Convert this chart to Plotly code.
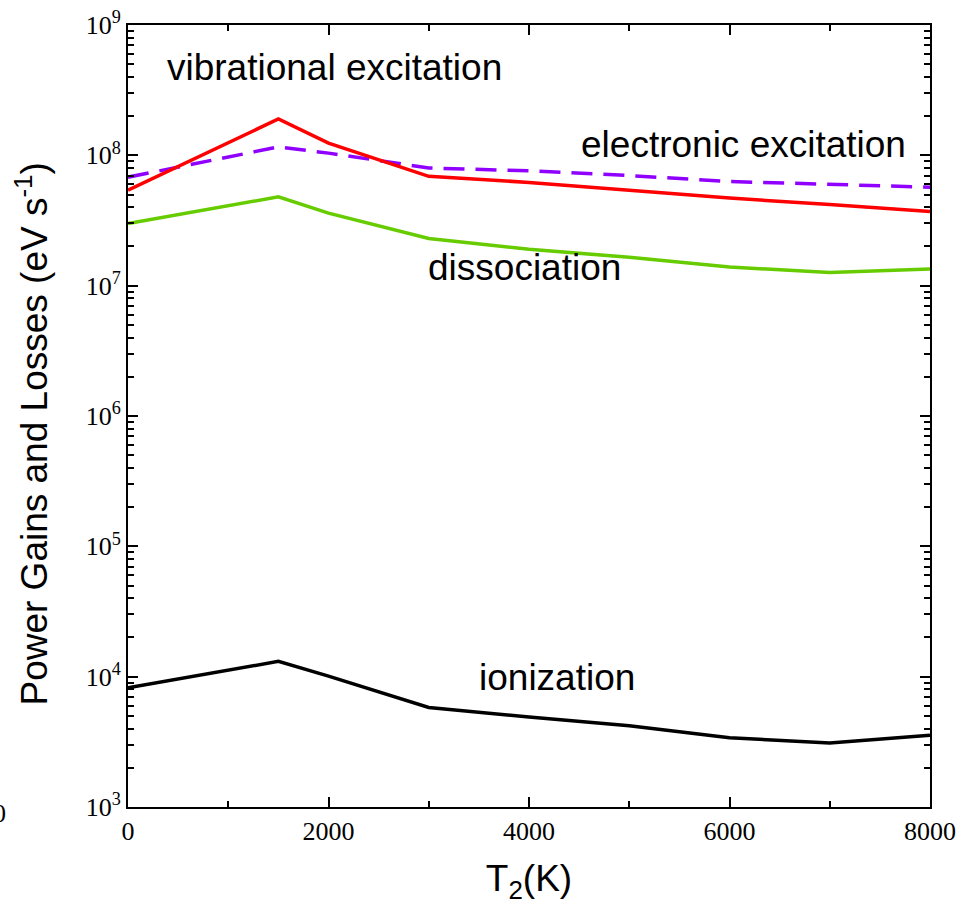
import plotly.graph_objects as go

T2 = [0, 1500, 2000, 3000, 4000, 5000, 6000, 7000, 8000]
vibrational = [5.4e7, 1.9e8, 1.24e8, 6.9e7, 6.2e7, 5.4e7, 4.7e7, 4.2e7, 3.7e7]
electronic = [6.8e7, 1.16e8, 1.04e8, 8.0e7, 7.6e7, 7.0e7, 6.3e7, 6.0e7, 5.7e7]
dissociation = [3.0e7, 4.8e7, 3.6e7, 2.3e7, 1.9e7, 1.65e7, 1.39e7, 1.26e7, 1.34e7]
ionization = [8.2e3, 1.31e4, 1.01e4, 5.8e3, 4.9e3, 4.2e3, 3.4e3, 3.1e3, 3.55e3]

x_ticks = [0, 2000, 4000, 6000, 8000]
y_tickvals = [1e3, 1e4, 1e5, 1e6, 1e7, 1e8, 1e9]
y_ticktext = ["10<sup>3</sup>", "10<sup>4</sup>", "10<sup>5</sup>", "10<sup>6</sup>",
              "10<sup>7</sup>", "10<sup>8</sup>", "10<sup>9</sup>"]

labels = ["vibrational excitation", "electronic excitation", "dissociation", "ionization"]

fig = go.Figure()
fig.add_trace(go.Scatter(x=T2, y=electronic, mode="lines", name=labels[1],
                         line=dict(color="#8f00ff", width=3.5, dash="21px,11px")))
fig.add_trace(go.Scatter(x=T2, y=vibrational, mode="lines", name=labels[0],
                         line=dict(color="#ff0000", width=3.5)))
fig.add_trace(go.Scatter(x=T2, y=dissociation, mode="lines", name=labels[2],
                         line=dict(color="#66cc00", width=3.5)))
fig.add_trace(go.Scatter(x=T2, y=ionization, mode="lines", name=labels[3],
                         line=dict(color="#000000", width=3.5)))

sans = "Liberation Sans, Arial, sans-serif"
serif = "Liberation Serif, Times New Roman, serif"
label_font = dict(family=sans, size=37, color="black")
ann_pos = [(0.258, 0.946), (0.768, 0.847), (0.495, 0.690), (0.535, 0.165)]
for txt, (ax, ay) in zip(labels, ann_pos):
    fig.add_annotation(text=txt, x=ax, y=ay, xref="paper", yref="paper",
                       showarrow=False, font=label_font, xanchor="center", yanchor="middle")

# y-axis title as rotated text
fig.add_annotation(text="Power Gains and Losses (eV s<sup>-1</sup>)", x=-0.119, y=0.477,
                   xref="paper", yref="paper", showarrow=False, textangle=-90,
                   xanchor="center", yanchor="middle", font=dict(family=sans, size=37, color="black"))

# stray clipped tick label at the far left edge
fig.add_annotation(text="0", x=-0.1496, y=-0.008, xref="paper", yref="paper",
                   showarrow=False, xanchor="right", yanchor="middle",
                   font=dict(family=serif, size=26, color="black"))

tick_font = dict(family=serif, size=26, color="black")

fig.update_layout(
    width=961, height=908,
    margin=dict(l=128, r=31, t=25, b=101),
    paper_bgcolor="white", plot_bgcolor="white",
    showlegend=False,
    xaxis=dict(
        range=[0, 8000], tickvals=x_ticks, ticktext=[str(v) for v in x_ticks],
        ticks="inside", ticklen=10, tickwidth=1.5, tickcolor="black",
        minor=dict(ticks="inside", ticklen=6, tickwidth=1.5, tickcolor="black", dtick=1000, showgrid=False),
        showline=True, linecolor="black", linewidth=2, mirror="allticks",
        showgrid=False, zeroline=False, tickfont=tick_font, automargin=False,
        title=dict(text="T<sub>2</sub>(K)", font=dict(family=sans, size=37, color="black"), standoff=20),
    ),
    yaxis=dict(
        type="log", range=[3, 9], tickvals=y_tickvals, ticktext=y_ticktext,
        ticks="inside", ticklen=10, tickwidth=1.5, tickcolor="black",
        minor=dict(ticks="inside", ticklen=6, tickwidth=1.5, tickcolor="black", dtick="D1", showgrid=False),
        showline=True, linecolor="black", linewidth=2, mirror="allticks",
        showgrid=False, zeroline=False, tickfont=tick_font, automargin=False,
    ),
)

fig.write_html("out.html")
